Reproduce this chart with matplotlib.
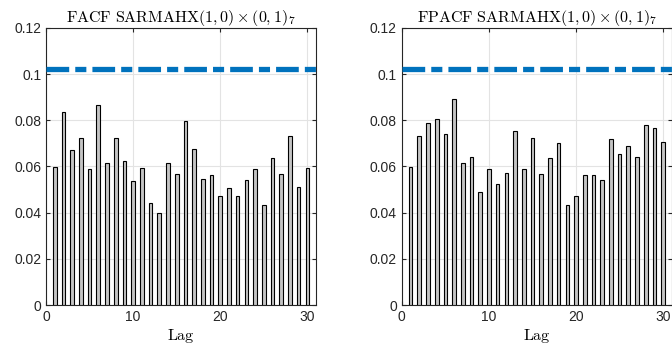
import matplotlib
matplotlib.use("Agg")
import matplotlib.pyplot as plt
import numpy as np

plt.rcParams['mathtext.fontset'] = 'cm'
plt.rcParams['font.family'] = ['Liberation Sans', 'DejaVu Sans']

lags = list(range(1, 31))
facf = [0.0599, 0.0836, 0.0672, 0.0723, 0.0588, 0.0868, 0.0614, 0.0725, 0.0622, 0.0538,
        0.0594, 0.0443, 0.0397, 0.0616, 0.0568, 0.0799, 0.0675, 0.0546, 0.0562, 0.0470,
        0.0507, 0.0470, 0.0542, 0.0591, 0.0435, 0.0638, 0.0567, 0.0733, 0.0510, 0.0594]
fpacf = [0.0599, 0.0733, 0.0787, 0.0806, 0.0739, 0.0894, 0.0614, 0.0641, 0.0490, 0.0588,
         0.0523, 0.0572, 0.0755, 0.0590, 0.0723, 0.0568, 0.0636, 0.0700, 0.0433, 0.0472,
         0.0565, 0.0565, 0.0541, 0.0719, 0.0654, 0.0690, 0.0643, 0.0780, 0.0768, 0.0707]
bound = 0.102
titles = [r'$\mathrm{FACF\ SARMAHX}(1,0)\times(0,1)_7$',
          r'$\mathrm{FPACF\ SARMAHX}(1,0)\times(0,1)_7$']
xticks = [0, 10, 20, 30]
yticks = [0, 0.02, 0.04, 0.06, 0.08, 0.10, 0.12]
yticklabels = ['0', '0.02', '0.04', '0.06', '0.08', '0.1', '0.12']

fig = plt.figure(figsize=(6.72, 3.49), dpi=100)
positions = [[0.0685, 0.126, 0.4018, 0.794], [0.598, 0.126, 0.4018, 0.794]]

for pos, vals, title in zip(positions, [facf, fpacf], titles):
    ax = fig.add_axes(pos)
    ax.bar(lags, vals, width=0.42, color='#c4c4c4', edgecolor='black', linewidth=0.8, zorder=3)
    ax.plot([0, 31], [bound, bound], color='#0072BD', linewidth=3.8,
            linestyle=(0, (4.3, 1.15, 2.1, 1.15)), solid_capstyle='butt',
            dash_capstyle='butt', zorder=4)
    ax.set_xlim(0, 31)
    ax.set_ylim(0, 0.12)
    ax.set_xticks(xticks)
    ax.set_yticks(yticks)
    ax.set_yticklabels(yticklabels)
    ax.grid(True, color='#e3e3e3', linewidth=0.8, zorder=0)
    ax.tick_params(direction='in', length=3, top=True, right=True, labelsize=10,
                   colors='#262626', labelcolor='#262626')
    for s in ax.spines.values():
        s.set_color('#262626')
        s.set_linewidth(0.8)
    ax.set_title(title, fontsize=11.5, pad=4)
    ax.set_xlabel(r'$\mathrm{Lag}$', fontsize=11.5, labelpad=2)

fig.savefig('out.png', dpi=100)
